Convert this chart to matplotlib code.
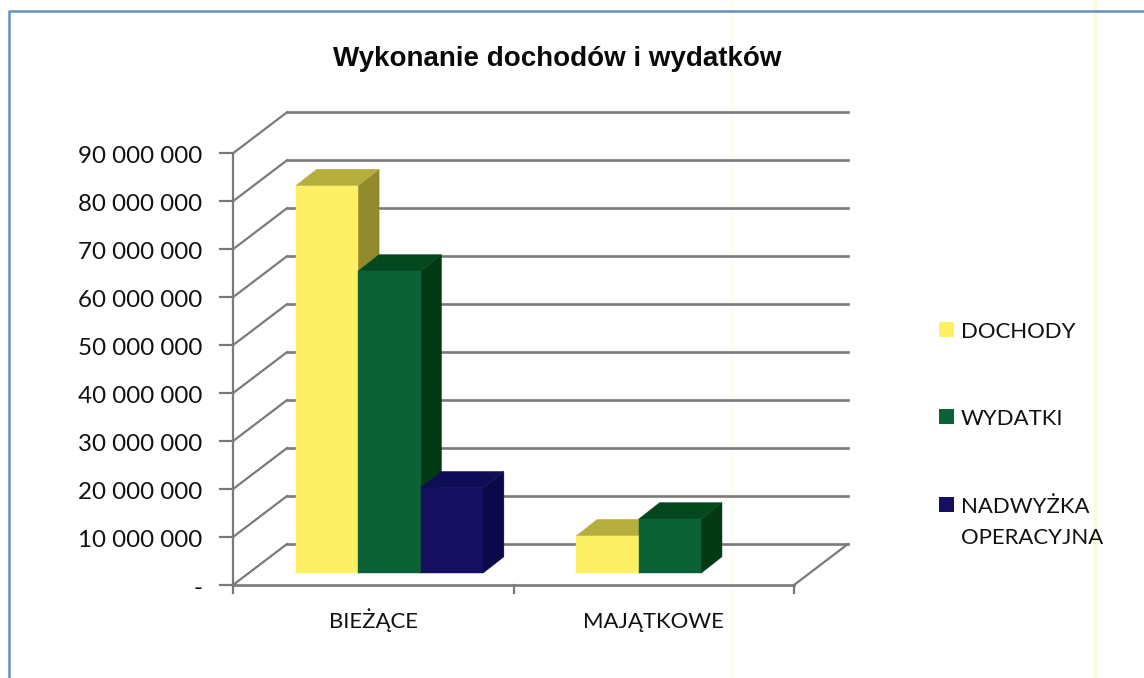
import numpy as np
import matplotlib
matplotlib.use('Agg')
import matplotlib.pyplot as plt
from matplotlib.patches import Polygon

# Values
categories = ['BIEŻĄCE', 'MAJĄTKOWE']
series_names = ['DOCHODY', 'WYDATKI', 'NADWYŻKA\nOPERACYJNA']
dochody = [80800000, 7800000]
wydatki = [63000000, 11300000]
nadwyzka = [17800000, None]
y_ticks = [0, 10000000, 20000000, 30000000, 40000000, 50000000,
           60000000, 70000000, 80000000, 90000000]

W, H = 1144, 678
X0_PX, Y0_PX = 233, 585       # where the axis origin sits
CAT_PX = 280.5                # one category, in pixels
VAL_PX = 431.7 / 90000000     # pixels per unit of value

fig = plt.figure(figsize=(W / 100, H / 100), dpi=100, facecolor='white')
ax = fig.add_axes([0, 0, 1, 1])
ax.set_xlim(-X0_PX / CAT_PX, (W - X0_PX) / CAT_PX)
ax.set_ylim(-(H - Y0_PX) / VAL_PX, Y0_PX / VAL_PX)
ax.axis('off')

# chart depth expressed in data units
wall_dx, wall_dy = 54 / CAT_PX, 41 / VAL_PX
bar_dx, bar_dy = 21 / CAT_PX, 16.5 / VAL_PX
base_dx, base_dy = 15.5 / CAT_PX, 11.7 / VAL_PX
bar_w = 62.4 / CAT_PX
gap = 47.2 / CAT_PX

GRID = '#7a7a7a'
label_font = ['Lato', 'DejaVu Sans']
n_cat = len(categories)

# scan artefacts: faint vertical stripes
fig.add_artist(plt.Line2D([1095 / W] * 2, [0, 1], color='#fbfbd8', lw=2.5, zorder=0))
fig.add_artist(plt.Line2D([732 / W] * 2, [0, 1], color='#fdfdf3', lw=3, zorder=0))

# frame, only top and left survive the scan
fig.add_artist(plt.Line2D([8.5 / W, 8.5 / W, 1], [0, 1 - 11 / H, 1 - 11 / H],
                          color='#6490b8', lw=1.8, zorder=1))

# gridlines + depth lines + ticks
for v in y_ticks:
    ax.plot([0, wall_dx], [v, v + wall_dy], color=GRID, lw=1.6, zorder=2, solid_capstyle='round')
    ax.plot([-13 / CAT_PX, 0], [v, v], color=GRID, lw=1.6, zorder=2)
    ax.plot([wall_dx, n_cat + wall_dx], [v + wall_dy, v + wall_dy], color=GRID, lw=1.9, zorder=2)
    label = '-' if v == 0 else f'{v:,}'.replace(',', ' ')
    ax.text(-31 / CAT_PX, v - 10 / VAL_PX, label, ha='right', va='baseline', fontsize=17.4,
            family=label_font, color='#111111')

ax.plot([0, 0], [y_ticks[0], y_ticks[-1]], color=GRID, lw=1.6, zorder=3)
ax.plot([0, n_cat], [0, 0], color=GRID, lw=1.9, zorder=3)
ax.plot([n_cat, n_cat + wall_dx], [0, wall_dy], color=GRID, lw=1.6, zorder=3)
for i in range(n_cat + 1):
    ax.plot([i, i], [0, -8 / VAL_PX], color=GRID, lw=1.6, zorder=3)


def draw_bar(x, value, front, top, side, z):
    x0 = x + base_dx
    x1 = x0 + bar_w
    y0 = base_dy
    y1 = y0 + value
    ax.add_patch(Polygon([(x1, y0), (x1 + bar_dx, y0 + bar_dy), (x1 + bar_dx, y1 + bar_dy), (x1, y1)],
                         fc=side, ec=side, lw=0.3, zorder=z))
    ax.add_patch(Polygon([(x0, y1), (x0 + bar_dx, y1 + bar_dy), (x1 + bar_dx, y1 + bar_dy), (x1, y1)],
                         fc=top, ec=top, lw=0.3, zorder=z))
    ax.add_patch(Polygon([(x0, y0), (x1, y0), (x1, y1), (x0, y1)],
                         fc=front, ec=front, lw=0.3, zorder=z))


colors = [('#fdf064', '#b5ad3c', '#8f8a2c'),
          ('#0b6236', '#04481f', '#033a14'),
          ('#14105f', '#100d58', '#0b0a48')]
for s, values in enumerate([dochody, wydatki, nadwyzka]):
    for c, value in enumerate(values):
        if value is None:
            continue
        draw_bar(c + gap + s * bar_w, value, *colors[s], z=5 + s)

for c, name in enumerate(categories):
    ax.text(c + 0.5, -42.5 / VAL_PX, name, ha='center', va='baseline', fontsize=15.9,
            family=label_font, color='#111111')

# legend, hand placed like the original
leg_y = [329, 416, 504]
for name, col, yy in zip(series_names, colors, leg_y):
    fig.add_artist(plt.Rectangle((939 / W, 1 - (yy + 7.5) / H), 15 / W, 15 / H,
                                 fc=col[0], ec='none', zorder=4))
    fig.text(961 / W, 1 - (yy - 7) / H, name, ha='left', va='top', fontsize=15.9,
             family=label_font, color='#111111', linespacing=1.7)

fig.text(557 / W, 1 - 59 / H, 'Wykonanie dochodów i wydatków', ha='center', va='center',
         fontsize=20, fontweight='bold', family='Liberation Sans', color='#0a0a0a')

plt.savefig('out.png', dpi=100, facecolor='white')
plt.close()
